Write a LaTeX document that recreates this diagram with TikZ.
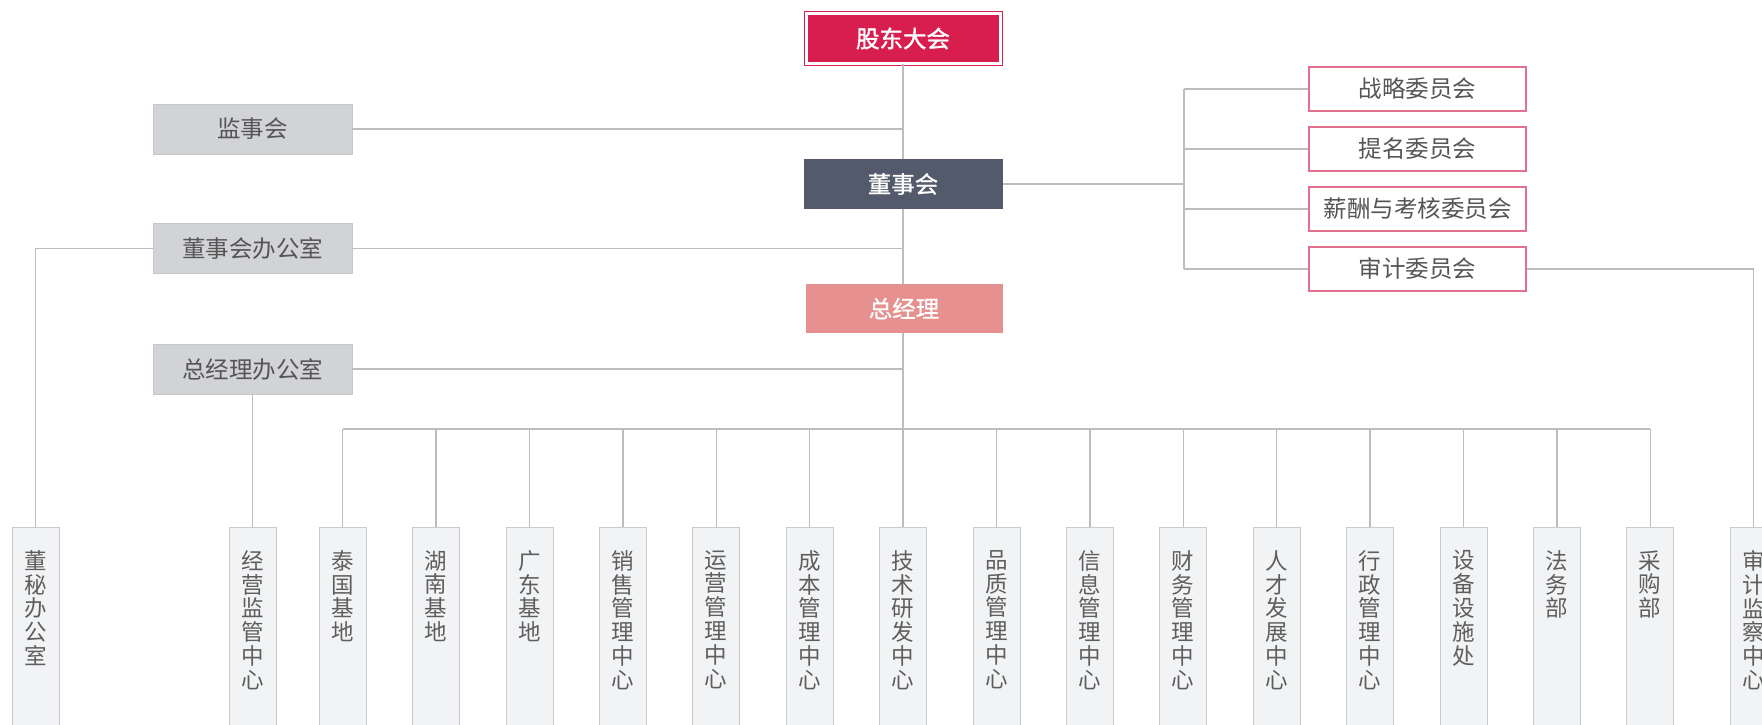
\documentclass[tikz,border=0pt]{standalone}
\usepackage{fontspec}
\setmainfont{Noto Sans CJK SC}[AutoFakeBold=1.6]
\newfontfamily\medfont{Noto Sans CJK SC}[FakeBold=0.7]
\usetikzlibrary{calc}
\definecolor{crimson}{HTML}{D71E4F}
\definecolor{slate}{HTML}{535A6B}
\definecolor{salmon}{HTML}{E69190}
\definecolor{grayfill}{HTML}{D2D3D7}
\definecolor{grayborder}{HTML}{C6C7CB}
\definecolor{pinkb}{HTML}{E3708F}
\definecolor{linegray}{HTML}{BDBDBD}
\definecolor{vfill}{HTML}{F2F3F5}
\definecolor{vborder}{HTML}{CACBCE}
\definecolor{textgray}{HTML}{555555}
\definecolor{vtext}{HTML}{5E5E5E}
\newcommand{\vcol}[1]{\begin{minipage}[t][205pt][t]{30pt}\centering\vspace*{23pt}#1\end{minipage}}
\begin{document}
\begin{tikzpicture}[x=1pt,y=-1pt,
  conn/.style={draw=linegray, line width=1.4pt},
  topbox/.style={rectangle, inner sep=0pt, text=white, font=\fontsize{23.5}{26}\selectfont\medfont},
  graybox/.style={rectangle, fill=grayfill, draw=grayborder, line width=0.8pt, minimum width=199pt, minimum height=50pt, inner sep=0pt, font=\fontsize{23.5}{26}\selectfont, text=textgray},
  combox/.style={rectangle, fill=white, draw=pinkb, line width=1.3pt, minimum width=217pt, minimum height=44pt, inner sep=0pt, font=\fontsize{23.5}{26}\selectfont, text=textgray},
  vbox/.style={rectangle, anchor=north, fill=vfill, draw=vborder, line width=0.8pt, minimum width=47pt, inner sep=0pt, font=\fontsize{22.5}{23.8}\selectfont, text=vtext}]
\useasboundingbox (0,0) rectangle (1762,725);
\clip (0,0) rectangle (1762,725);
\fill[white] (0,0) rectangle (1762,725);

% top chain
\node[topbox, fill=crimson, draw=crimson, line width=1pt, double=white, double distance=3pt,
      minimum width=194pt, minimum height=50pt, font=\fontsize{23.5}{26}\selectfont\bfseries] (gd) at (903,38.5) {股东大会};
\node[topbox, fill=slate, minimum width=199pt, minimum height=50pt] (dsh) at (903,184) {董事会};
\node[topbox, fill=salmon, minimum width=197pt, minimum height=49pt] (zjl) at (904,308.5) {总经理};

% left gray boxes
\node[graybox] (jsh) at (252.5,129) {监事会};
\node[graybox] (dbg) at (252.5,248.5) {董事会办公室};
\node[graybox] (zjb) at (252.5,369) {总经理办公室};

% committees
\node[combox] (c1) at (1417.5,89) {战略委员会};
\node[combox] (c2) at (1417.5,149) {提名委员会};
\node[combox] (c3) at (1417.5,209) {薪酬与考核委员会};
\node[combox] (c4) at (1417.5,269) {审计委员会};

% bottom boxes
\node[vbox] (dm) at (35.5,527) {\vcol{董\\秘\\办\\公\\室}};
\node[vbox] (jy) at (252.5,527) {\vcol{经\\营\\监\\管\\中\\心}};
\node[vbox] (sj) at (1753.5,527) {\vcol{审\\计\\监\\察\\中\\心}};
\foreach \i/\t in {0/{泰\\国\\基\\地},1/{湖\\南\\基\\地},2/{广\\东\\基\\地},
  3/{销\\售\\管\\理\\中\\心},4/{运\\营\\管\\理\\中\\心},5/{成\\本\\管\\理\\中\\心},
  6/{技\\术\\研\\发\\中\\心},7/{品\\质\\管\\理\\中\\心},8/{信\\息\\管\\理\\中\\心},
  9/{财\\务\\管\\理\\中\\心},10/{人\\才\\发\\展\\中\\心},11/{行\\政\\管\\理\\中\\心},
  12/{设\\备\\设\\施\\处},13/{法\\务\\部},14/{采\\购\\部}}{
  \node[vbox] (b\i) at ({903+93.4*(\i-6)},527) {\vcol{\t}};
}

% connectors
\coordinate (bus) at (0,429);
\coordinate (cbus) at (1184,0);
\draw[conn] (gd.south) -- (dsh.north);
\draw[conn] (dsh.south) -- (zjl.north -| dsh.south);
\draw[conn] (zjl.south -| dsh.south) -- (b6.north);
\draw[conn] (jsh.east) -- (jsh.east -| gd.south);
\draw[conn] (dbg.east) -- (dbg.east -| gd.south);
\draw[conn] (zjb.east) -- (zjb.east -| gd.south);
\draw[conn] (dbg.west) -| (dm.north);
\draw[conn] (zjb.south) -- (jy.north);
\draw[conn] (b0.north |- bus) -- (b14.north |- bus);
\foreach \i in {0,...,14}{\draw[conn] (b\i.north |- bus) -- (b\i.north);}
\draw[conn] (dsh.east) -- (dsh.east -| cbus);
\draw[conn] (c1.west -| cbus) -- (c4.west -| cbus);
\foreach \i in {1,...,4}{\draw[conn] (c\i.west) -- (c\i.west -| cbus);}
\draw[conn] (c4.east) -| (sj.north);
\end{tikzpicture}
\end{document}
